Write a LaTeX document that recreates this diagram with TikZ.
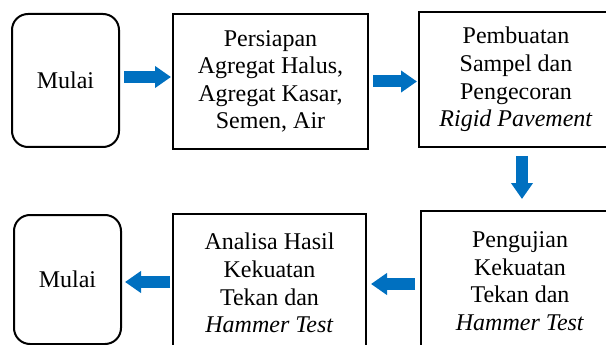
\documentclass[tikz,border=0pt]{standalone}
\usepackage{fontspec}
\setmainfont{Liberation Serif}
\usetikzlibrary{arrows.meta}
\definecolor{arrblue}{RGB}{0,112,192}
\begin{document}
\begin{tikzpicture}[x=1pt,y=-1pt,
  box/.style={draw=black,line width=2pt,align=center,inner sep=0pt,
    font=\fontsize{24}{27.6}\selectfont},
  roundbox/.style={box,rounded corners=16pt},
  barrow/.style={arrblue,line width=12pt,line cap=butt,
    -{Triangle[length=16pt,width=21pt]}}]
\useasboundingbox (0,0) rectangle (606,345);
\clip (0,0) rectangle (606,345);
\node[roundbox,minimum width=107pt,minimum height=133pt] (m1) at (65.5,80.5) {Mulai};
\node[box,minimum width=195pt,minimum height=135pt] (b2) at (270.5,81.5)
  {Persiapan\\Agregat Halus,\\Agregat Kasar,\\Semen, Air};
\node[box,minimum width=194pt,minimum height=135pt] (b3) at (516,79.5)
  {Pembuatan\\Sampel dan\\Pengecoran\\\textit{Rigid Pavement}};
\node[box,minimum width=198pt,minimum height=140pt] (b4) at (520,281)
  {Pengujian\\Kekuatan\\Tekan dan\\\textit{Hammer Test}};
\node[box,minimum width=193pt,minimum height=138pt] (b5) at (269.5,283)
  {Analisa Hasil\\Kekuatan\\Tekan dan\\\textit{Hammer Test}};
\node[roundbox,minimum width=107pt,minimum height=129pt] (m2) at (67.5,279.5) {Mulai};
\draw[barrow] ([xshift=4pt,yshift=3.5pt]m1.east) -- ([xshift=-1pt,yshift=3.5pt]m1.east -| b2.west);
\draw[barrow] ([xshift=4pt]b2.east) -- ([xshift=-1pt]b2.east -| b3.west);
\draw[barrow] ([xshift=6pt,yshift=-8pt]b3.south) -- ([xshift=6pt,yshift=11pt]b3.south |- b4.north);
\draw[barrow] ([xshift=-5pt,yshift=-3pt]b4.west) -- ([xshift=4pt,yshift=-3pt]b4.west -| b5.east);
\draw[barrow] ([xshift=-2pt,yshift=1pt]b5.west) -- ([xshift=3pt,yshift=1pt]b5.west -| m2.east);
\end{tikzpicture}
\end{document}
